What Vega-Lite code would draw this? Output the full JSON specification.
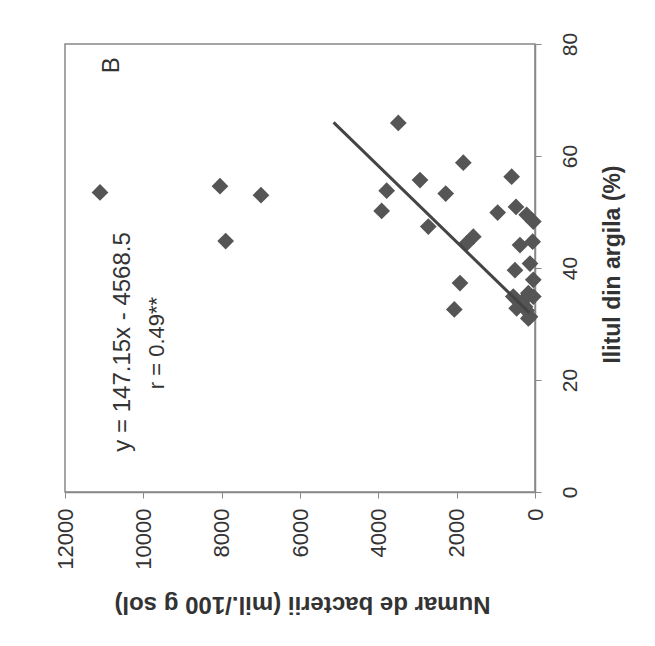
{
  "$schema": "https://vega.github.io/schema/vega-lite/v6.json",
  "width": 470,
  "height": 448,
  "autosize": "none",
  "padding": {"left": 65, "top": 44, "right": 120, "bottom": 154},
  "background": "white",
  "config": {
    "font": "Liberation Sans",
    "view": {"stroke": "#888", "strokeWidth": 1.5},
    "axis": {"grid": false, "domainColor": "#888", "domainWidth": 1.5, "tickColor": "#888", "tickSize": 6, "labelColor": "#333", "titleColor": "#333", "labelFont": "Liberation Sans", "titleFont": "Liberation Sans"}
  },
  "datasets": {
    "pts": [
      {"bacterii": 11106, "ilit": 53.5},
      {"bacterii": 8043, "ilit": 54.6},
      {"bacterii": 7898, "ilit": 44.8},
      {"bacterii": 6996, "ilit": 53.0},
      {"bacterii": 3490, "ilit": 65.9},
      {"bacterii": 3787, "ilit": 53.8},
      {"bacterii": 3915, "ilit": 50.2},
      {"bacterii": 2936, "ilit": 55.7},
      {"bacterii": 1830, "ilit": 58.8},
      {"bacterii": 2280, "ilit": 53.3},
      {"bacterii": 2724, "ilit": 47.4},
      {"bacterii": 1575, "ilit": 45.6},
      {"bacterii": 1744, "ilit": 44.4},
      {"bacterii": 1915, "ilit": 37.3},
      {"bacterii": 2060, "ilit": 32.6},
      {"bacterii": 953, "ilit": 49.9},
      {"bacterii": 596, "ilit": 56.3},
      {"bacterii": 485, "ilit": 50.9},
      {"bacterii": 213, "ilit": 49.5},
      {"bacterii": 43, "ilit": 48.3},
      {"bacterii": 383, "ilit": 44.1},
      {"bacterii": 60, "ilit": 44.7},
      {"bacterii": 511, "ilit": 39.6},
      {"bacterii": 128, "ilit": 40.8},
      {"bacterii": 43, "ilit": 37.9},
      {"bacterii": 170, "ilit": 35.5},
      {"bacterii": 43, "ilit": 34.9},
      {"bacterii": 554, "ilit": 34.9},
      {"bacterii": 468, "ilit": 32.8},
      {"bacterii": 255, "ilit": 33.1},
      {"bacterii": 128, "ilit": 31.3},
      {"bacterii": 213, "ilit": 32.4},
      {"bacterii": 298, "ilit": 34.2},
      {"bacterii": 170, "ilit": 31.0}
    ],
    "trend": [
      {"bacterii": 140, "ilit": 32.0},
      {"bacterii": 5143, "ilit": 66.0}
    ],
    "labels": [
      {"bacterii": 10519, "ilit": 26.8, "txt": "y = 147.15x - 4568.5", "sz": 24},
      {"bacterii": 9651, "ilit": 26.6, "txt": "r = 0.49**", "sz": 22},
      {"bacterii": 10800, "ilit": 76.2, "txt": "B", "sz": 24}
    ]
  },
  "layer": [
    {
      "data": {"name": "pts"},
      "mark": {"type": "point", "shape": "diamond", "filled": true, "size": 280, "color": "#555", "opacity": 1},
      "encoding": {
        "x": {"field": "bacterii", "type": "quantitative", "scale": {"domain": [0, 12000], "reverse": true, "nice": false},
          "axis": {"orient": "bottom", "values": [0, 2000, 4000, 6000, 8000, 10000, 12000], "format": "d", "labelAngle": -90, "labelAlign": "right", "labelBaseline": "middle", "labelFontSize": 22, "labelPadding": 10, "title": "Numar de bacterii (mil./100 g sol)", "titleFontSize": 24, "titleFontWeight": "bold", "titleAngle": 180, "titleAlign": "center", "titleBaseline": "middle", "titleX": 237, "titleY": 111}},
        "y": {"field": "ilit", "type": "quantitative", "scale": {"domain": [0, 80], "nice": false},
          "axis": {"orient": "right", "values": [0, 20, 40, 60, 80], "format": "d", "labelAngle": -90, "labelAlign": "center", "labelBaseline": "top", "labelFontSize": 21, "labelPadding": 18, "title": "Ilitul din argila (%)", "titleFontSize": 23, "titleFontWeight": "bold", "titleAngle": -90, "titleAlign": "center", "titleBaseline": "middle", "titleX": 77, "titleY": 220}}
      }
    },
    {
      "data": {"name": "trend"},
      "mark": {"type": "line", "color": "#444", "strokeWidth": 3},
      "encoding": {
        "x": {"field": "bacterii", "type": "quantitative"},
        "y": {"field": "ilit", "type": "quantitative"}
      }
    },
    {
      "data": {"name": "labels"},
      "mark": {"type": "text", "angle": 270, "align": "center", "baseline": "middle", "color": "#333"},
      "encoding": {
        "x": {"field": "bacterii", "type": "quantitative"},
        "y": {"field": "ilit", "type": "quantitative"},
        "text": {"field": "txt"},
        "size": {"field": "sz", "type": "quantitative", "scale": null}
      }
    }
  ]
}
